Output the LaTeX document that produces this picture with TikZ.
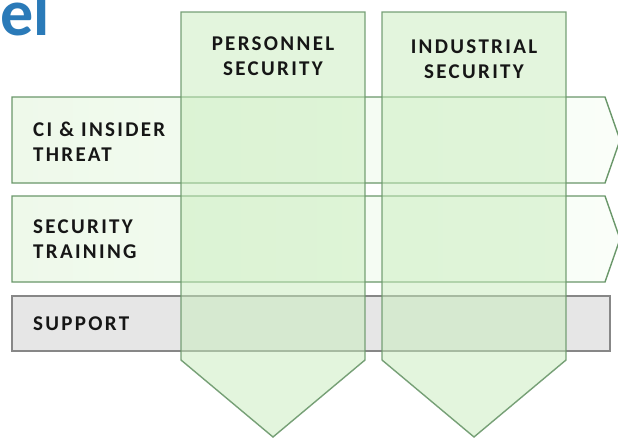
\documentclass[tikz,border=0pt]{standalone}
\usepackage{fontspec}
\setmainfont{Carlito}
\newfontfamily\lblfont[LetterSpace=11]{Carlito}
\usepackage{tikz}

\definecolor{ttlblue}{HTML}{2A7AB8}
\definecolor{colfill}{HTML}{C8EDBC}
\definecolor{grnline}{HTML}{6A976A}
\definecolor{rowleft}{HTML}{EEF9EA}
\definecolor{rowright}{HTML}{FAFEF9}
\definecolor{suppfill}{HTML}{E6E6E6}
\definecolor{suppline}{HTML}{878787}
\definecolor{txt}{HTML}{161616}

\tikzset{
	rowlbl/.style={font=\lblfont\bfseries\fontsize{21}{25}\selectfont, text=txt, inner sep=0pt, align=left, anchor=base west},
	collbl/.style={font=\lblfont\bfseries\fontsize{21}{25}\selectfont, text=txt, inner sep=0pt, align=center, anchor=base},
	rowshape/.style={draw=grnline, line width=1.4pt, left color=rowleft, right color=rowright},
	colshape/.style={draw=grnline, line width=1.4pt, fill=colfill, fill opacity=0.5, draw opacity=0.9}
}

\begin{document}
\begin{tikzpicture}[x=1pt, y=-1pt]
	\clip (0, 0) rectangle (618, 437);
	\fill[white] (0, 0) rectangle (618, 437);
	\node[font=\bfseries\fontsize{66}{66}\selectfont, text=ttlblue, inner sep=0pt, anchor=base east] (ttl) at (50, 35) {el};
	% rows
	\foreach \y in {97, 196}
		\path[rowshape] (12, \y) -- (605, \y) -- (620, \y + 43) -- (605, \y + 86) -- (12, \y + 86) -- cycle;
	\filldraw[fill=suppfill, draw=suppline, line width=1.4pt] (12, 296) rectangle (610, 351);
	% columns
	\foreach \x in {181, 382}
		\path[colshape] (\x, 12) -- (\x + 184, 12) -- (\x + 184, 360) -- (\x + 92, 437) -- (\x, 360) -- cycle;
	\node[collbl] (pers) at (273, 75) {PERSONNEL\\SECURITY};
	\node[collbl] (indu) at (474, 78) {INDUSTRIAL\\SECURITY};
	\node[rowlbl] (ci) at (33, 161) {CI \& INSIDER\\THREAT};
	\node[rowlbl] (trn) at (33, 258) {SECURITY\\TRAINING};
	\node[rowlbl] (sup) at (33, 330) {SUPPORT};
\end{tikzpicture}
\end{document}
